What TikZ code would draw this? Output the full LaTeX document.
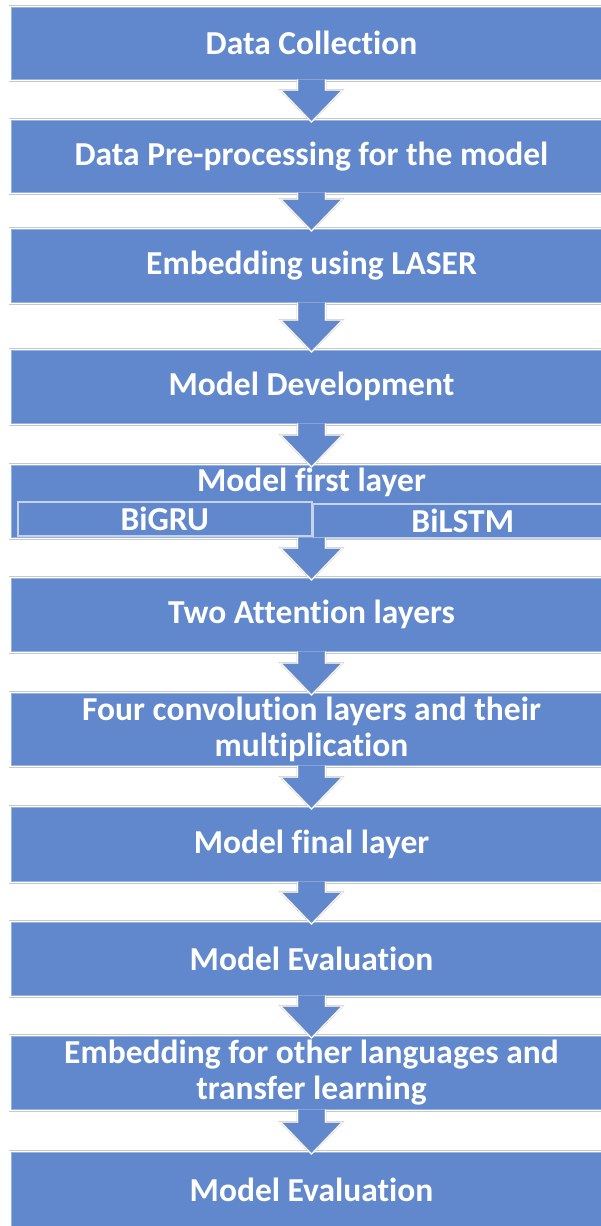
\documentclass[tikz,border=0pt]{standalone}
\usepackage{fontspec}
\setmainfont{Carlito}[Ligatures=NoCommon]
\usepackage{tikz}
\usetikzlibrary{calc}

\definecolor{stageblue}{RGB}{97,136,204}
\definecolor{stageedge}{RGB}{150,178,224}
\definecolor{subedge}{RGB}{196,210,236}
\definecolor{rulegray}{RGB}{200,200,200}

\tikzset{
  stage/.style={rectangle, anchor=north, fill=stageblue, draw=stageedge, line width=0.6pt,
    minimum width=601pt, inner sep=0pt, text=white, align=center,
    font=\fontsize{33.5}{35.5}\selectfont\bfseries},
  substage/.style={rectangle, anchor=north west, fill=stageblue, draw=subedge, line width=1.5pt,
    inner sep=0pt, text=white, font=\fontsize{33.5}{35.5}\selectfont\bfseries},
  grayrule/.style={draw=rulegray, line width=1pt},
  flowarrow/.style={fill=stageblue, draw=rulegray, double=white, double distance=0.9pt,
    line width=0.4pt, line join=miter}
}

% block arrow from the bottom of one stage to the top of the next
\newcommand{\blockarrow}[2]{%
  \draw[flowarrow] let \p1=(#1.south), \p2=(#2.north) in
    (\x1-14pt,\y1) -- (\x1-14pt,\y2+30pt) -- (\x1-31pt,\y2+30pt) -- (\x1,\y2-2pt)
    -- (\x1+31pt,\y2+30pt) -- (\x1+14pt,\y2+30pt) -- (\x1+14pt,\y1);
}

\begin{document}
\begin{tikzpicture}[x=1pt,y=-1pt]
    \useasboundingbox (0,0) rectangle (601,1226);
    \clip (0,0) rectangle (601,1226);

    \node[stage, minimum height=72pt] (collect) at (311.5,7) {Data Collection};
    \node[stage, minimum height=72pt] (prep) at (311.5,120) {Data Pre-processing for the model};
    \node[stage, minimum height=73pt] (laser) at (311.5,229) {Embedding using LASER};
    \node[stage, minimum height=73pt] (develop) at (311.5,350) {Model Development};
    \node[stage, minimum height=72pt] (first) at (311.5,465) {};
    \node[stage, minimum height=73pt] (attention) at (311.5,578) {Two Attention layers};
    \node[stage, minimum height=72pt] (conv) at (311.5,693) {Four convolution layers and their\\multiplication};
    \node[stage, minimum height=74pt] (final) at (311.5,807) {Model final layer};
    \node[stage, minimum height=73pt] (evalone) at (311.5,922) {Model Evaluation};
    \node[stage, minimum height=73pt] (transfer) at (311.5,1036) {Embedding for other languages and\\transfer learning};
    \node[stage, minimum height=76pt] (evaltwo) at (311.5,1152) {Model Evaluation};

    % first layer: title and the two recurrent branches
    \node[text=white, font=\fontsize{33.5}{35.5}\selectfont\bfseries] (firsttitle) at (311.5,482) {Model first layer};
    \node[substage, minimum width=294pt, minimum height=34pt] (bigru) at (17,501) {BiGRU};
    \node[substage, minimum width=300pt, minimum height=34pt] (bilstm) at (312,503) {BiLSTM};

    % light rules above and below the stages
    \foreach \n in {collect,prep,laser,develop,first,attention,conv,final,evalone,transfer}{
        \draw[grayrule] ([xshift=-2pt,yshift=2pt]\n.north west) -- ([yshift=2pt]\n.north east);
        \draw[grayrule] ([xshift=-2pt,yshift=-2pt]\n.south west) -- ([yshift=-2pt]\n.south east);
    }
    \draw[grayrule] ([xshift=-2pt,yshift=2pt]evaltwo.north west) -- ([yshift=2pt]evaltwo.north east);

    \blockarrow{collect}{prep}
    \blockarrow{prep}{laser}
    \blockarrow{laser}{develop}
    \blockarrow{develop}{first}
    \blockarrow{first}{attention}
    \blockarrow{attention}{conv}
    \blockarrow{conv}{final}
    \blockarrow{final}{evalone}
    \blockarrow{evalone}{transfer}
    \blockarrow{transfer}{evaltwo}
\end{tikzpicture}
\end{document}
